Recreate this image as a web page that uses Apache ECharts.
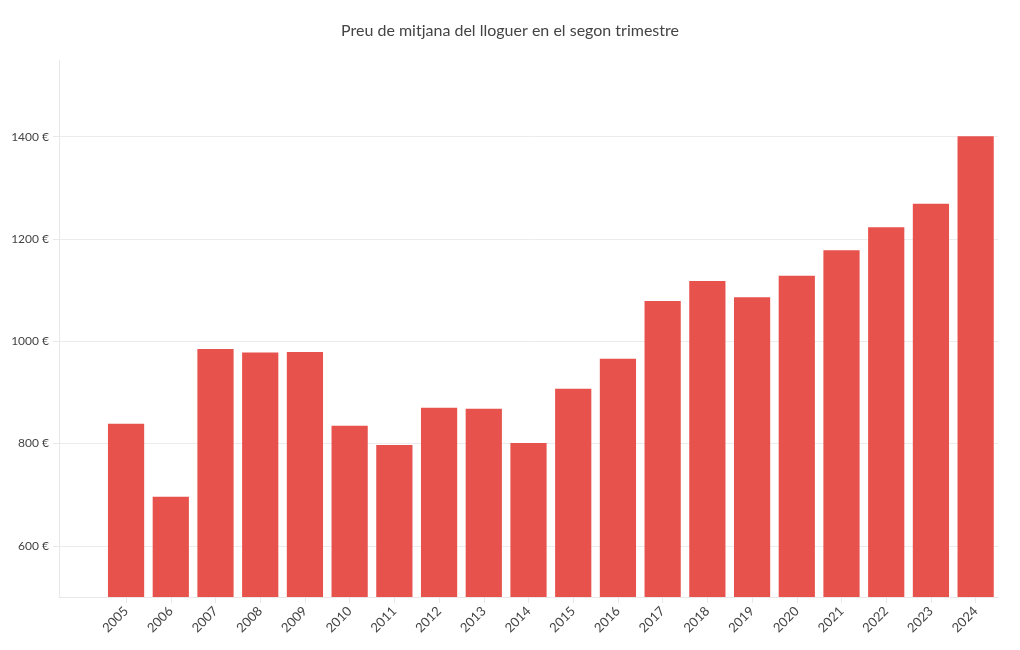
<!DOCTYPE html>
<html>
<head>
<meta charset="utf-8">
<script src="https://cdn.jsdelivr.net/npm/echarts@6/dist/echarts.min.js"></script>
<style>html,body{margin:0;padding:0;background:#fff}#c{width:1020px;height:650px}</style>
</head>
<body>
<div id="c"></div>
<script>
const title = 'Preu de mitjana del lloguer en el segon trimestre';
const years = ['2005','2006','2007','2008','2009','2010','2011','2012','2013','2014','2015','2016','2017','2018','2019','2020','2021','2022','2023','2024'];
const prices = [839, 696, 985, 978, 979, 835, 797, 870, 868, 801, 907, 966, 1079, 1118, 1086, 1128, 1178, 1223, 1269, 1401];
const yTicks = [600, 800, 1000, 1200, 1400];

const cats = [''].concat(years);
const vals = [null].concat(prices);
const FONT = 'Lato';

const chart = echarts.init(document.getElementById('c'), null, {renderer: 'canvas'});
chart.setOption({
  animation: false,
  backgroundColor: '#fff',
  title: {
    text: title, left: 'center', top: 18,
    textStyle: {fontFamily: FONT, fontSize: 16, fontWeight: 'normal', color: '#444'}
  },
  grid: {left: 59, right: 22, top: 60, bottom: 53, containLabel: false},
  xAxis: {
    type: 'category', data: cats, boundaryGap: true,
    axisLine: {show: true, lineStyle: {color: '#e8e8e8'}},
    axisTick: {show: true, alignWithLabel: true, length: 6, lineStyle: {color: '#e8e8e8'},
      interval: function (i) { return i > 0; }},
    axisLabel: {rotate: 45, interval: 0, fontFamily: FONT, fontSize: 13, color: '#444', margin: 12,
      padding: [0, 0, 0, 0]},
    splitLine: {show: false}
  },
  yAxis: {
    type: 'value', min: 500, max: 1550, splitNumber: 5,
    axisLine: {show: true, lineStyle: {color: '#e8e8e8'}},
    axisTick: {show: true, length: 6, lineStyle: {color: '#e8e8e8'}},
    axisLabel: {showMinLabel: false, showMaxLabel: false, fontFamily: FONT, fontSize: 12, color: '#444', margin: 10,
      formatter: function (v) { return yTicks.indexOf(v) >= 0 ? v + ' €' : ''; }},
    splitLine: {show: true, showMinLine: false, showMaxLine: false, lineStyle: {color: '#ececec'}}
  },
  series: [{
    type: 'bar', data: vals, barCategoryGap: '19%',
    itemStyle: {color: '#e8524c'}
  }]
});
</script>
</body>
</html>
